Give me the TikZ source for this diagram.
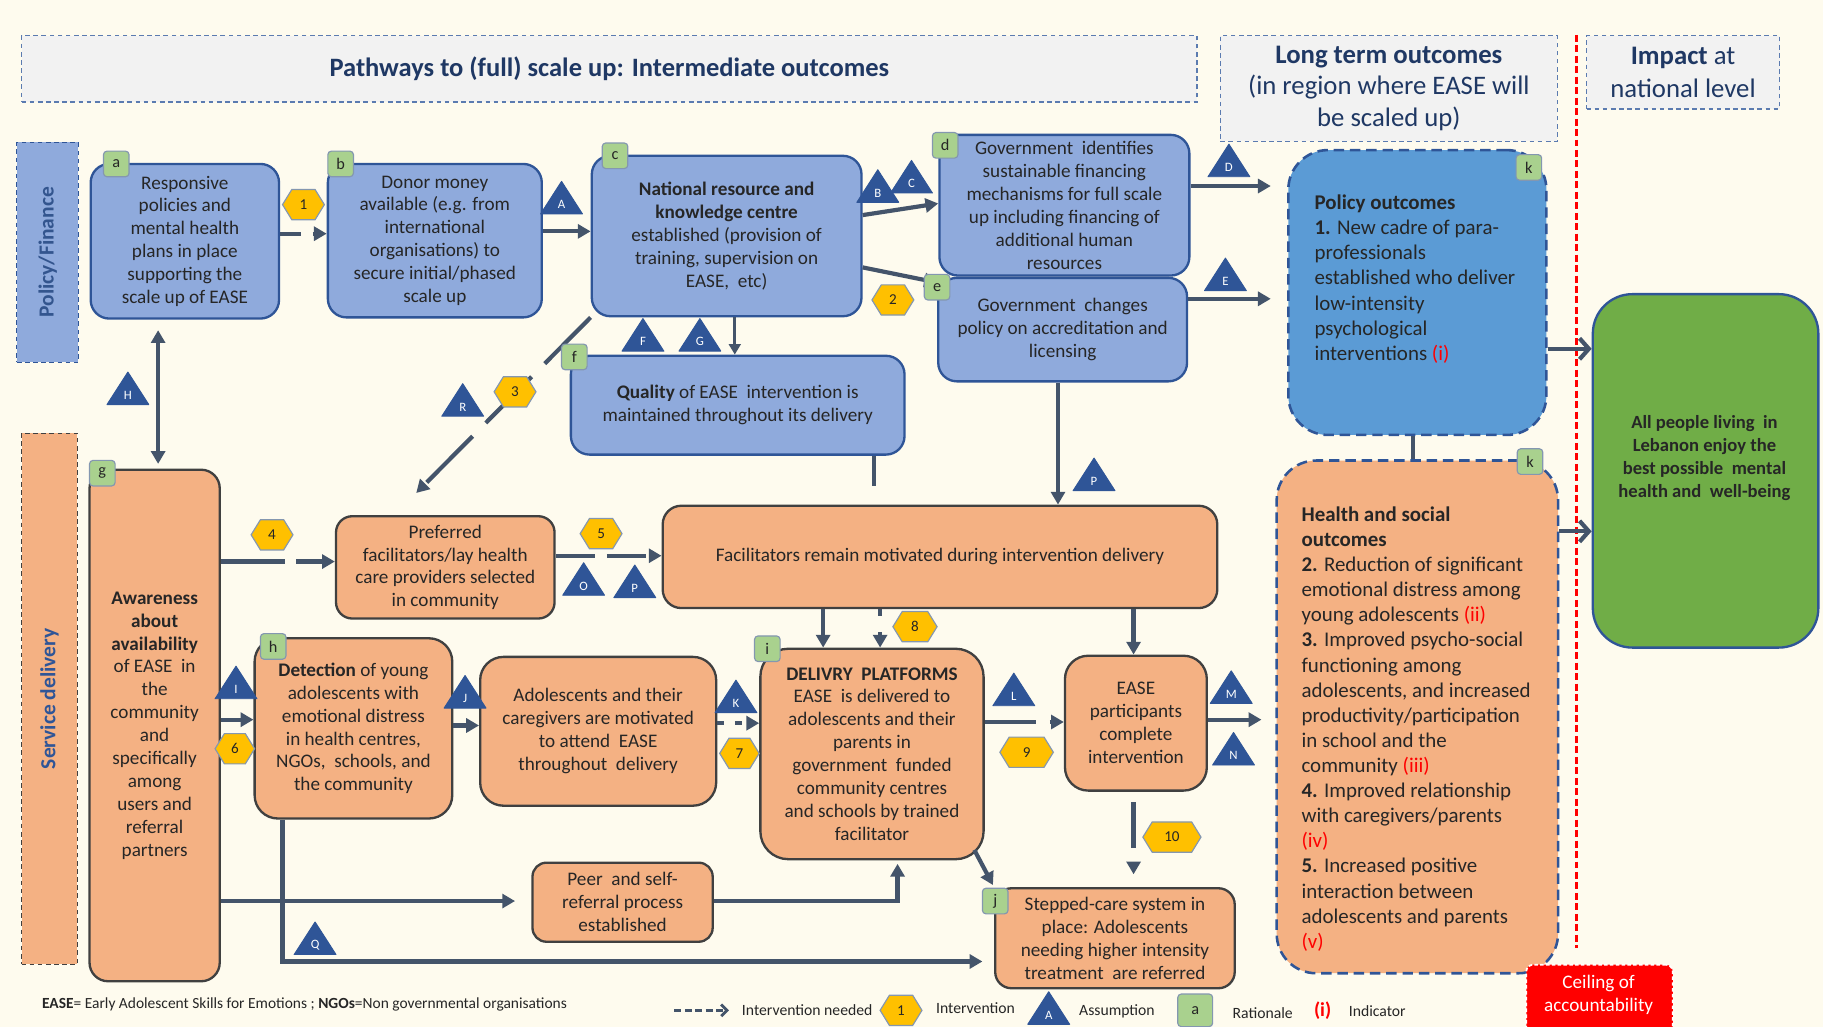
\documentclass[tikz,border=0pt]{standalone}
\usepackage{fontspec}
\setmainfont{Carlito}
\usetikzlibrary{arrows.meta,calc}
\newcommand\fs[2]{\fontsize{#1}{#2}\selectfont}
\definecolor{bgC}{HTML}{FEFBEE}
\definecolor{blueF}{HTML}{8FAADC}
\definecolor{navyB}{HTML}{2F5597}
\definecolor{orF}{HTML}{F4B183}
\definecolor{grayB}{HTML}{404040}
\definecolor{polF}{HTML}{5B9BD5}
\definecolor{grnL}{HTML}{A9D18E}
\definecolor{grnB}{HTML}{70AD47}
\definecolor{hexF}{HTML}{FFC000}
\definecolor{hexB}{HTML}{8497B0}
\definecolor{triF}{HTML}{2F5597}
\definecolor{lineC}{HTML}{44546A}
\definecolor{hdrF}{HTML}{F2F2F2}
\definecolor{hdrB}{HTML}{5B7BB0}
\definecolor{navyT}{HTML}{1F3864}
\definecolor{txt}{HTML}{262626}
\definecolor{indred}{HTML}{FF0000}
% yellow hexagon: name, x, y, half width, number
\newcommand\hexmark[5]{%
  \filldraw[hexst,shift={(#2,#3)}] (-#4,0) -- (-#4+8,-13) -- (#4-8,-13) -- (#4,0) -- (#4-8,13) -- (-#4+8,13) -- cycle;
  \node[hexlab] (#1) at (#2,#3) {#5};}
% blue assumption triangle: name, x, y, letter
\newcommand\assume[4]{%
  \filldraw[trist,shift={(#2,#3)}] (-18,14) -- (0,-14) -- (18,14) -- cycle;
  \node[trilab] (#1) at (#2,#3+6) {#4};}
\begin{document}
\begin{tikzpicture}[x=1pt,y=-1pt,
  bx/.style={rounded corners=16pt, line width=2pt, anchor=north west, inner sep=0pt,
    align=center, font=\fs{16.5}{19.7}, text=txt},
  bluebox/.style={bx, draw=navyB, fill=blueF},
  orbox/.style={bx, draw=grayB, fill=orF},
  lbl/.style={draw=hexB, fill=grnL, rounded corners=3pt, minimum width=22pt, minimum height=22pt,
    inner sep=0pt, font=\fs{14}{16}, text=txt, line width=1pt},
  hexst/.style={fill=hexF, draw=hexB, line width=1pt},
  hexlab/.style={font=\fs{13}{15}, text=txt, inner sep=0pt},
  trist/.style={fill=triF, draw=triF, line width=0.8pt, line join=round},
  trilab/.style={font=\fs{11}{12}, text=white, inner sep=0pt},
  conn/.style={draw=lineC, line width=3.6pt, -{Triangle[length=11pt,width=12pt]}},
  need/.style={conn, dash pattern=on 20pt off 9pt},
  thinconn/.style={draw=lineC, line width=2.6pt, -{Triangle[length=9pt,width=10pt]}},
  openarr/.style={draw=lineC, line width=3.6pt, -{Straight Barb[length=8pt,width=18pt]}},
  hdr/.style={draw=hdrB, dash pattern=on 4pt off 3pt, line width=1.2pt, fill=hdrF, inner sep=0pt,
    align=center, text=navyT, anchor=north west},
  outbox/.style={draw=navyB, line width=2.2pt, dash pattern=on 9pt off 5pt, rounded corners=34pt,
    anchor=north west, inner sep=0pt},
  outtext/.style={align=left, font=\fs{18}{21.6}, text=txt, inner sep=0pt},
  legtext/.style={anchor=west, font=\fs{13.5}{15}, text=txt, inner sep=0pt}
]
\useasboundingbox (0,0) rectangle (1568,883);
\fill[bgC] (0,0) rectangle (1568,883);

% column headers
\node[hdr, minimum width=1011pt, minimum height=57pt, font=\bfseries\fs{22.8}{26}] (hd1) at (18,30)
  {Pathways to (full) scale up: Intermediate outcomes};
\node[hdr, minimum width=290pt, minimum height=91pt, font=\fs{23}{27}] (hd2) at (1049,30)
  {\textbf{Long term outcomes}\\(in region where EASE will\\be scaled up)};
\node[hdr, minimum width=166pt, minimum height=63pt, font=\fs{23}{28}] (hd3) at (1364,30)
  {\textbf{Impact} at\\national level};

% ceiling of accountability line
\draw[indred, line width=1.8pt, dash pattern=on 6pt off 3pt] (1356,30) -- (1356,815);

% row labels
\node[draw=navyB, fill=blueF, dash pattern=on 4pt off 3pt, line width=1pt, minimum width=53pt,
  minimum height=189pt, anchor=north west, inner sep=0pt] (rowpol) at (14,122) {};
\node[rotate=90, font=\bfseries\fs{18.5}{20}, text=navyB!80!lineC, inner sep=0pt] (rowpoltxt) at (rowpol.center) {Policy/Finance};
\node[draw=grayB, fill=orF, dash pattern=on 4pt off 3pt, line width=1pt, minimum width=48pt,
  minimum height=457pt, anchor=north west, inner sep=0pt] (rowsrv) at (18,372) {};
\node[rotate=90, font=\bfseries\fs{18.5}{20}, text=navyB, inner sep=0pt] (rowsrvtxt) at (rowsrv.center) {Service delivery};

% policy / finance boxes
\node[bluebox, minimum width=162pt, minimum height=133pt] (a) at (77,140)
  {Responsive\\policies and\\mental health\\plans in place\\supporting the\\scale up of EASE};
\node[bluebox, minimum width=184pt, minimum height=132pt] (b) at (281,140)
  {Donor money\\available (e.g. from\\international\\organisations) to\\secure initial/phased\\scale up};
\node[bluebox, minimum width=232pt, minimum height=138pt] (c) at (508,133)
  {\textbf{National resource and}\\\textbf{knowledge centre}\\established (provision of\\training, supervision on\\EASE,~ etc)};
\node[bluebox, minimum width=215pt, minimum height=121pt] (d) at (807,115)
  {Government~ identifies\\sustainable financing\\mechanisms for full scale\\up including financing of\\additional human\\resources};
\node[bluebox, minimum width=214pt, minimum height=89pt] (e) at (806,238)
  {Government~ changes\\policy on accreditation and\\licensing};
\node[bluebox, minimum width=287pt, minimum height=85pt] (f) at (490,305)
  {\textbf{Quality} of EASE~ intervention is\\maintained throughout its delivery};

% service delivery boxes
\node[orbox, minimum width=112pt, minimum height=440pt] (g) at (76,403)
  {\textbf{Awareness}\\\textbf{about}\\\textbf{availability}\\of EASE~ in\\the\\community\\and\\specifically\\among\\users and\\referral\\partners};
\node[orbox, minimum width=188pt, minimum height=88pt, rounded corners=14pt] (pref) at (288,443)
  {Preferred\\facilitators/lay health\\care providers selected\\in community};
\node[orbox, minimum width=477pt, minimum height=88pt] (fac) at (569,434)
  {Facilitators remain motivated during intervention delivery};
\node[orbox, minimum width=170pt, minimum height=155pt, rounded corners=20pt] (h) at (218,548)
  {\textbf{Detection} of young\\adolescents with\\emotional distress\\in health centres,\\NGOs,~ schools, and\\the community};
\node[orbox, minimum width=203pt, minimum height=128pt, rounded corners=20pt] (ad) at (412,564)
  {Adolescents and their\\caregivers are motivated\\to attend~ EASE\\throughout~ delivery};
\node[orbox, minimum width=192pt, minimum height=181pt, rounded corners=24pt] (i) at (653,557)
  {\textbf{DELIVRY~ PLATFORMS}\\EASE~ is delivered to\\adolescents and their\\parents in\\government~ funded\\community centres\\and schools by trained\\facilitator};
\node[orbox, minimum width=122pt, minimum height=116pt, rounded corners=20pt] (ep) at (915,563)
  {EASE\\participants\\complete\\intervention};
\node[orbox, minimum width=155pt, minimum height=68pt, rounded corners=12pt] (peer) at (457,741)
  {Peer~ and self-\\referral process\\established};
\node[orbox, minimum width=206pt, minimum height=86pt, rounded corners=14pt] (j) at (855,763)
  {Stepped-care system in\\place: Adolescents\\needing higher intensity\\treatment~ are referred};

% outcomes and impact
\node[outbox, fill=polF, minimum width=222pt, minimum height=245pt] (k1) at (1107,128) {};
\node[outtext] (k1txt) at (1217,240)
  {\textbf{Policy outcomes}\\\textbf{1.} New cadre of para-\\professionals\\established who deliver\\low-intensity\\psychological\\interventions \textcolor{indred}{(i)}};
\node[outbox, fill=orF, minimum width=242pt, minimum height=441pt] (k2) at (1097,395) {};
\node[outtext] (k2txt) at (1218,627)
  {\textbf{Health and social}\\\textbf{outcomes}\\\textbf{2.} Reduction of significant\\emotional distress among\\young adolescents \textcolor{indred}{(ii)}\\\textbf{3.} Improved psycho-social\\functioning among\\adolescents, and increased\\productivity/participation\\in school and the\\community \textcolor{indred}{(iii)}\\\textbf{4.} Improved relationship\\with caregivers/parents\\\textcolor{indred}{(iv)}\\\textbf{5.} Increased positive\\interaction between\\adolescents and parents\\\textcolor{indred}{(v)}};
\node[draw=navyB, line width=2pt, fill=grnB, rounded corners=34pt, anchor=north west, inner sep=0pt,
  minimum width=194pt, minimum height=304pt] (imp) at (1369,252) {};
\node[align=center, font=\bfseries\fs{16}{19.7}, text=txt, inner sep=0pt] (imptxt) at (1466,394)
  {All people living~ in\\Lebanon enjoy the\\best possible~ mental\\health and~ well-being};

% ceiling box
\node[draw=white, dash pattern=on 3pt off 2pt, line width=1.5pt, fill=indred, rounded corners=6pt,
  anchor=north west, minimum width=126pt, minimum height=60pt, inner sep=0pt] (ceil) at (1312,829) {};
\node[align=center, font=\fs{16.5}{20}, text=white, inner sep=0pt] (ceiltxt) at (1375,856)
  {Ceiling of\\accountability};

% connectors
\draw[need, dash pattern=on 18pt off 10pt] (a.east |- 0,201) -- (b.west |- 0,201);
\draw[conn] (b.east |- 0,199) -- (c.west |- 0,199);
\draw[conn] (c.east |- 0,185) -- (d.west |- 0,175);
\draw[need, dash pattern=on 62pt off 8pt] (c.east |- 0,230) -- (e.west |- 0,243);
\draw[conn, shorten >=14pt] (d.east |- 0,160) -- (k1.west |- 0,160);
\draw[conn, shorten >=14pt] (e.east |- 0,257) -- (k1.west |- 0,257);
\draw[thinconn] (632,0 |- c.south) -- (632,0 |- f.north);
\draw[need, dash pattern=on 56pt off 16pt] (c.south west) -- ($(pref.north)+(-25,-19)$);
\draw[conn, {Triangle[length=11pt,width=12pt]}-{Triangle[length=11pt,width=12pt]}, shorten <=9pt, shorten >=4pt]
  (136,0 |- a.south) -- (136,0 |- g.north);
\draw[need, dash pattern=on 55pt off 10pt] (g.east |- 0,483) -- (pref.west |- 0,483);
\draw[need, dash pattern=on 34pt off 10pt] (pref.east |- 0,478) -- (fac.west |- 0,478);
\draw[conn] (910,0 |- e.south) -- (910,0 |- fac.north);
\coordinate (fend) at (752,418);
\draw[draw=lineC, line width=3.6pt] (752,0 |- f.south) -- (fend);
\draw[conn] (708,0 |- fac.south) -- (708,0 |- i.north);
\draw[need, dash pattern=on 6pt off 14pt] (757,0 |- fac.south) -- (757,0 |- i.north);
\draw[conn] (975,0 |- fac.south) -- (975,0 |- ep.north);
\draw[conn] (g.east |- 0,619) -- (h.west |- 0,619);
\draw[conn] (h.east |- 0,624) -- (ad.west |- 0,624);
\draw[need, dash pattern=on 6pt off 9pt] (ad.east |- 0,622) -- (i.west |- 0,622);
\draw[need, dash pattern=on 44pt off 12pt] (i.east |- 0,621) -- (ep.west |- 0,621);
\draw[conn, shorten >=12pt] (ep.east |- 0,619) -- (k2.west |- 0,619);
\draw[need, dash pattern=on 39pt off 13pt, shorten <=9pt, shorten >=11pt] (975,0 |- ep.south) -- (975,0 |- j.north);
\draw[conn, shorten >=2pt] ($(i.south east)+(-9,-9)$) -- (j.north west);
\draw[conn, shorten >=14pt] (g.east |- 0,775) -- (peer.west |- 0,775);
\draw[conn, shorten >=3pt] (peer.east |- 0,775) -| (772,0 |- i.south);
\draw[conn, shorten >=10pt] (243,0 |- h.south) |- (j.west |- 0,827);
\draw[draw=lineC, line width=3.6pt] (1215,0 |- k1.south) -- (1215,0 |- k2.north);
\draw[openarr] (k1.east |- 0,300) -- (imp.west |- 0,300);
\draw[openarr] (k2.east |- 0,457) -- (imp.west |- 0,457);

% rationale labels
\node[lbl] (la) at (100,141) {a};
\node[lbl] (lb) at (293,141) {b};
\node[lbl] (lc) at (529,134) {c};
\node[lbl] (ld) at (813,125) {d};
\node[lbl] (le) at (806,247) {e};
\node[lbl] (lf) at (494,307) {f};
\node[lbl] (lg) at (88,407) {g};
\node[lbl] (lh) at (235,556) {h};
\node[lbl] (li) at (660,558) {i};
\node[lbl] (lj) at (856,775) {j};
\node[lbl] (lk1) at (1315,144) {k};
\node[lbl] (lk2) at (1316,397) {k};

% interventions
\hexmark{x1}{261}{176}{18}{1}
\hexmark{x2}{768}{258}{18}{2}
\hexmark{x3}{443}{337}{18}{3}
\hexmark{x4}{234}{460}{18}{4}
\hexmark{x5}{517}{459}{18}{5}
\hexmark{x6}{202}{644}{17}{6}
\hexmark{x7}{636}{648}{17}{7}
\hexmark{x8}{787}{539}{19}{8}
\hexmark{x9}{883}{647}{23}{9}
\hexmark{x10}{1008}{720}{25}{10}

% assumptions
\assume{tA}{483}{170}{A}
\assume{tB}{755}{160}{B}
\assume{tC}{784}{152}{C}
\assume{tD}{1057}{138}{D}
\assume{tE}{1054}{236}{E}
\assume{tF}{553}{288}{F}
\assume{tG}{602}{288}{G}
\assume{tH}{110}{334}{H}
\assume{tR}{398}{344}{R}
\assume{tI}{203}{587}{I}
\assume{tJ}{400}{595}{J}
\assume{tK}{633}{599}{K}
\assume{tL}{872}{593}{L}
\assume{tM}{1059}{591}{M}
\assume{tN}{1061}{644}{N}
\assume{tO}{502}{498}{O}
\assume{tP}{546}{500}{P}
\assume{tP2}{941}{408}{P}
\assume{tQ}{271}{807}{Q}

% footnote and legend
\node[legtext, font=\fs{13.3}{15}] (foot) at (36,864)
  {\textbf{EASE}= Early Adolescent Skills for Emotions ; \textbf{NGOs}=Non governmental organisations};
\coordinate (lgs) at (580,869);
\coordinate (lge) at (627,869);
\draw[draw=lineC, line width=2.4pt, dash pattern=on 6pt off 3pt, -{Straight Barb[length=5pt,width=10pt]}] (lgs) -- (lge);
\node[legtext] (lg1) at (638,869) {Intervention needed};
\hexmark{lgx}{775}{869}{18}{1}
\node[legtext] (lg2) at (805,867) {Intervention};
\assume{lgt}{902}{867}{A}
\node[legtext] (lg3) at (928,870) {Assumption};
\node[lbl, minimum width=30pt, minimum height=28pt] (lgr) at (1028,869) {a};
\node[legtext] (lg4) at (1060,871) {Rationale};
\node[legtext, font=\bfseries\fs{17}{18}, text=indred] (lg5) at (1130,869) {(i)};
\node[legtext] (lg6) at (1160,870) {Indicator};
\end{tikzpicture}
\end{document}
